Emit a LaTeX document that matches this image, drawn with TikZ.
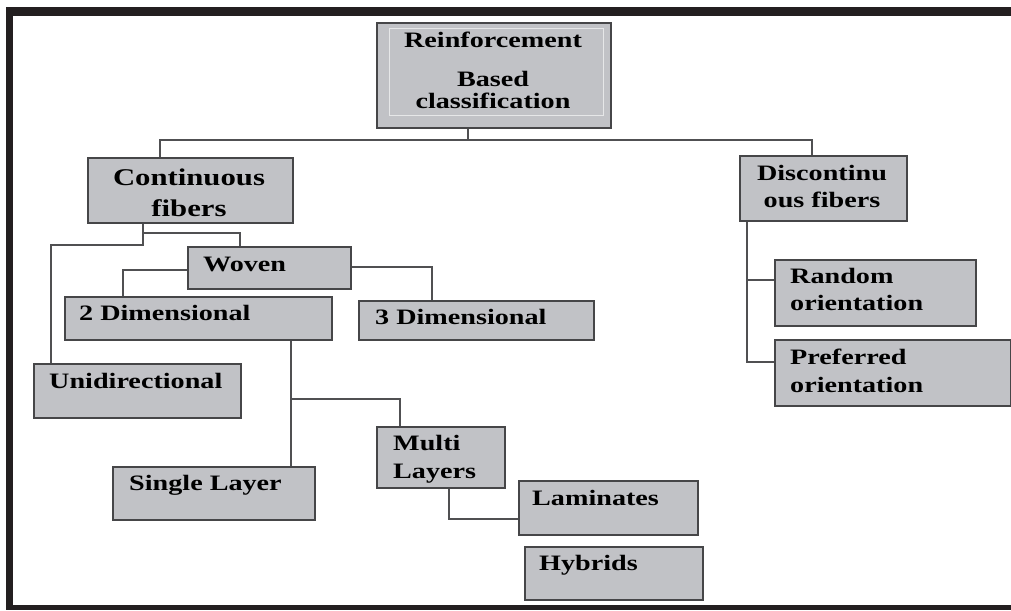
\documentclass[tikz,border=0pt]{standalone}
\usepackage{fontspec}
\newfontfamily\boxfont{Liberation Serif}[FakeStretch=1.28]
\definecolor{boxfill}{RGB}{193,194,198}
\definecolor{boxline}{RGB}{70,70,72}
\definecolor{wireline}{RGB}{80,80,82}
\definecolor{framecol}{RGB}{35,31,32}
\begin{document}
\begin{tikzpicture}[x=1pt,y=-1pt,
        box/.style={rectangle,draw=boxline,fill=boxfill,line width=1.6pt,inner sep=0pt,anchor=north west},
        txt/.style={inner sep=0pt,align=left,font=\boxfont\bfseries\fontsize{22}{28}\selectfont},
        wire/.style={draw=wireline,line width=1.3pt}]
    \useasboundingbox (0,0) rectangle (1011,610);
    % outer frame
    \fill[framecol] (6,7) rectangle (1011,16);
    \fill[framecol] (6,7) rectangle (13,610);
    \fill[framecol] (6,605) rectangle (1011,610);

    % boxes
    \node[box,minimum width=234,minimum height=105] (root) at (376,22) {};
    \draw[white!60!boxfill,line width=0.8pt] (389,28) rectangle (603,115);
    \node[box,minimum width=205,minimum height=65] (cont) at (87,157) {};
    \node[box,minimum width=167,minimum height=65] (disc) at (739,155) {};
    \node[box,minimum width=163,minimum height=42] (woven) at (187,246) {};
    \node[box,minimum width=267,minimum height=43] (dim2) at (64,296) {};
    \node[box,minimum width=235,minimum height=39] (dim3) at (358,300) {};
    \node[box,minimum width=207,minimum height=54] (uni) at (33,363) {};
    \node[box,minimum width=202,minimum height=53] (single) at (112,466) {};
    \node[box,minimum width=128,minimum height=61] (multi) at (376,426) {};
    \node[box,minimum width=179,minimum height=54] (lam) at (518,480) {};
    \node[box,minimum width=178,minimum height=53] (hyb) at (524,546) {};
    \node[box,minimum width=201,minimum height=66] (rand) at (774,259) {};
    \node[box,minimum width=236,minimum height=66] (pref) at (774,339) {};

    % labels (base = last line)
    \node[txt,align=center,anchor=base] (root-t) at (493,108) {Reinforcement\\[11pt]Based\\[-6pt]classification};
    \node[txt,align=center,anchor=base,font=\boxfont\bfseries\fontsize{24}{31}\selectfont] (cont-t) at (189,216) {Continuous\\fibers};
    \node[txt,align=center,anchor=base,font=\boxfont\bfseries\fontsize{22}{27}\selectfont] (disc-t) at (822,207) {Discontinu\\ous fibers};
    \node[txt,anchor=base west] (woven-t) at (203,271) {Woven};
    \node[txt,anchor=base west] (dim2-t) at (79,320) {2 Dimensional};
    \node[txt,anchor=base west] (dim3-t) at (375,324) {3 Dimensional};
    \node[txt,anchor=base west] (uni-t) at (49,388) {Unidirectional};
    \node[txt,anchor=base west] (single-t) at (129,490) {Single Layer};
    \node[txt,anchor=base west] (multi-t) at (393,478) {Multi\\Layers};
    \node[txt,anchor=base west] (lam-t) at (532,505) {Laminates};
    \node[txt,anchor=base west] (hyb-t) at (539,570) {Hybrids};
    \node[txt,anchor=base west,font=\boxfont\bfseries\fontsize{22}{27}\selectfont] (rand-t) at (790,310) {Random\\orientation};
    \node[txt,anchor=base west] (pref-t) at (790,392) {Preferred\\orientation};

    % connectors
    \coordinate (j1) at (468,140);
    \coordinate (t1) at (160,140);
    \coordinate (t2) at (812,140);
    \draw[wire] (j1 |- root.south) -- (j1);
    \draw[wire] (t1 |- cont.north) -- (t1) -- (t2) -- (t2 |- disc.north);

    \coordinate (c1) at (143,245);
    \coordinate (c2) at (51,245);
    \coordinate (c3) at (143,233);
    \coordinate (c4) at (240,233);
    \draw[wire] (c1 |- cont.south) -- (c1) -- (c2) -- (c2 |- uni.north);
    \draw[wire] (c3) -- (c4) -- (c4 |- woven.north);

    \coordinate (w1) at (123,270);
    \coordinate (w2) at (432,267);
    \draw[wire] (w1 -| woven.west) -- (w1) -- (w1 |- dim2.north);
    \draw[wire] (woven.east |- w2) -- (w2) -- (w2 |- dim3.north);

    \coordinate (d1) at (291,399);
    \coordinate (d2) at (400,399);
    \draw[wire] (d1 |- dim2.south) -- (d1 |- single.north);
    \draw[wire] (d1) -- (d2) -- (d2 |- multi.north);

    \coordinate (m1) at (449,519);
    \draw[wire] (m1 |- multi.south) -- (m1) -- (m1 -| lam.west);

    \coordinate (r1) at (747,280);
    \coordinate (r2) at (747,362);
    \draw[wire] (r1 |- disc.south) -- (r2) -- (r2 -| pref.west);
    \draw[wire] (r1) -- (r1 -| rand.west);
\end{tikzpicture}
\end{document}
